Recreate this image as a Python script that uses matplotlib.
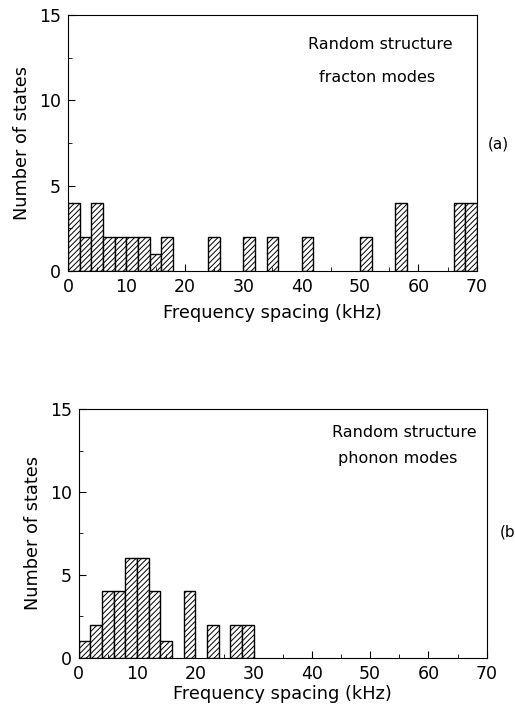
import numpy as np
import matplotlib
matplotlib.use('Agg')
import matplotlib.pyplot as plt
from matplotlib.ticker import MultipleLocator

# bin left edges (kHz) and counts, bin width 2 kHz
fracton_bins = [0, 2, 4, 6, 8, 10, 12, 14, 16, 24, 30, 34, 40, 50, 56, 66, 68]
fracton_counts = [4, 2, 4, 2, 2, 2, 2, 1, 2, 2, 2, 2, 2, 2, 4, 4, 4]

phonon_bins = [0, 2, 4, 6, 8, 10, 12, 14, 18, 22, 26, 28]
phonon_counts = [1, 2, 4, 4, 6, 6, 4, 1, 4, 2, 2, 2]

bin_width = 2

plt.rcParams['font.family'] = 'DejaVu Sans'
plt.rcParams['hatch.linewidth'] = 0.7

fig = plt.figure(figsize=(5.15, 7.08), dpi=100)
ax_a = fig.add_axes([0.132, 0.617, 0.794, 0.362])
ax_b = fig.add_axes([0.153, 0.071, 0.792, 0.351])


def draw_panel(ax, bins, counts, label1, label2, pos1, pos2, xpad):
    ax.bar(bins, counts, width=bin_width, align='edge', color='white',
           edgecolor='black', hatch='//////', linewidth=1.0)
    ax.set_xlim(0, 70)
    ax.set_ylim(0, 15)
    ax.xaxis.set_major_locator(MultipleLocator(10))
    ax.xaxis.set_minor_locator(MultipleLocator(5))
    ax.yaxis.set_major_locator(MultipleLocator(5))
    ax.yaxis.set_minor_locator(MultipleLocator(2.5))
    ax.tick_params(which='both', direction='in', top=False, right=False,
                   labelsize=12.5, pad=5)
    ax.tick_params(which='major', length=5)
    ax.tick_params(which='minor', length=3)
    ax.set_xlabel('Frequency spacing (kHz)', fontsize=12.8, labelpad=xpad)
    ax.set_ylabel('Number of states', fontsize=12.8, labelpad=6)
    ax.text(pos1[0], pos1[1], label1, transform=ax.transAxes, ha='center',
            va='center', fontsize=11.5)
    ax.text(pos2[0], pos2[1], label2, transform=ax.transAxes, ha='center',
            va='center', fontsize=11.5)


draw_panel(ax_a, fracton_bins, fracton_counts, 'Random structure',
           'fracton modes', (0.765, 0.886), (0.757, 0.757), 6)
draw_panel(ax_b, phonon_bins, phonon_counts, 'Random structure',
           'phonon modes', (0.797, 0.905), (0.782, 0.800), 2)

fig.text(0.947, 0.797, '(a)', fontsize=11, ha='left', va='center')
fig.text(0.970, 0.248, '(b', fontsize=11, ha='left', va='center')

fig.savefig('out.png', dpi=100)
